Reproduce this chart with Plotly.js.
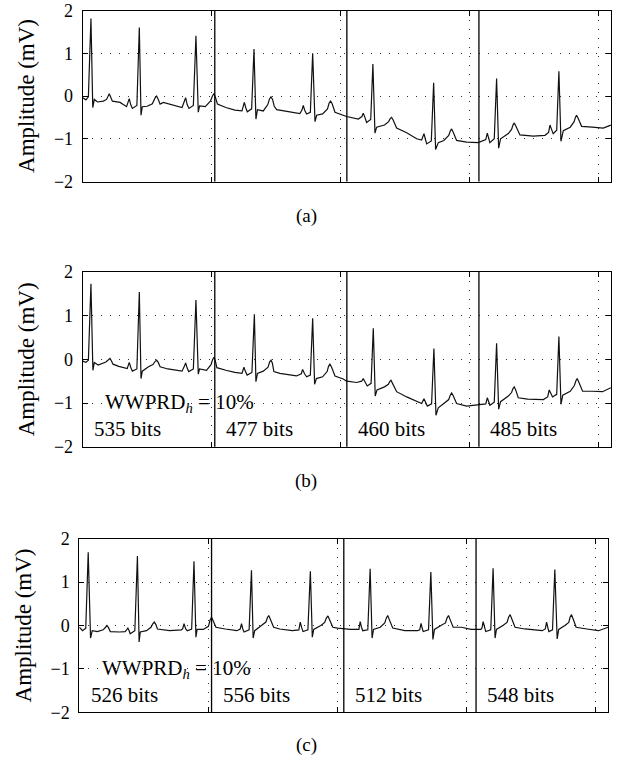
<!DOCTYPE html>
<html><head><meta charset="utf-8">
<script src="https://cdn.plot.ly/plotly-3.0.1.min.js"></script>
<style>html,body{margin:0;padding:0;background:#fff}#chart{width:625px;height:765px}</style>
</head><body><div id="chart"></div>
<script>
// ---------- DATA (sample index, amplitude in mV) ----------
const sampleA = [
  0, 25, 44, 64, 78, 90, 115, 160, 185, 196, 206, 216, 230,
  290, 340, 350, 361, 372, 385, 420, 439, 452, 462, 500, 540, 560, 573, 586, 600, 625, 660, 720, 770,
  786, 798, 810, 824, 858, 878, 896, 906, 950, 990, 1006, 1018, 1030, 1045, 1110, 1180, 1235,
  1243, 1253, 1265, 1276, 1310, 1328, 1343, 1355, 1400, 1435, 1448, 1460, 1472, 1485, 1504, 1607, 1684,
  1700, 1710, 1722, 1736, 1765, 1783, 1801, 1814, 1860, 1898, 1910, 1922, 1934, 1956, 2046, 2137,
  2165, 2175, 2188, 2201, 2233, 2250, 2266, 2279, 2340, 2372, 2384, 2395, 2407, 2434, 2512, 2589,
  2628, 2646, 2656, 2667, 2703, 2721, 2736, 2757, 2800, 2838, 2850, 2860, 2872, 2899, 2977, 3067,
  3125, 3137, 3147, 3157, 3191, 3209, 3225, 3240, 3300, 3325, 3336, 3346, 3358, 3390, 3493, 3584,
  3612, 3623, 3635, 3648, 3675, 3692, 3708, 3726, 3780, 3810, 3820, 3829, 3841, 3868, 3950, 4036, 4095
];
const ampA = [
  -0.04, -0.09, -0.02, 1.81, -0.27, -0.08, -0.14, -0.12, -0.08, -0.01, 0.05, -0.02, -0.12,
  -0.15, -0.25, -0.16, -0.06, -0.20, -0.29, -0.22, 1.60, -0.45, -0.25, -0.24, -0.18, -0.05, 0.00, -0.08, -0.19, -0.15, -0.18, -0.23, -0.27,
  -0.14, -0.04, -0.20, -0.29, -0.22, 1.41, -0.38, -0.23, -0.25, -0.12, 0.00, 0.06, -0.04, -0.19, -0.27, -0.33, -0.35,
  -0.25, -0.15, -0.28, -0.37, -0.30, 1.10, -0.54, -0.32, -0.35, -0.20, -0.07, -0.02, -0.08, -0.24, -0.32, -0.37, -0.41,
  -0.33, -0.22, -0.34, -0.42, -0.38, 1.00, -0.60, -0.45, -0.42, -0.30, -0.17, -0.12, -0.18, -0.38, -0.48, -0.54,
  -0.48, -0.40, -0.50, -0.62, -0.55, 0.75, -0.87, -0.73, -0.68, -0.60, -0.53, -0.50, -0.56, -0.75, -0.86, -1.00,
  -1.03, -0.88, -1.00, -1.12, -1.05, 0.31, -1.25, -1.09, -1.04, -0.92, -0.82, -0.77, -0.84, -1.04, -1.08, -1.09,
  -1.02, -0.87, -0.98, -1.09, -1.00, 0.41, -1.22, -1.00, -0.88, -0.78, -0.68, -0.63, -0.70, -0.91, -0.94, -0.92,
  -0.85, -0.68, -0.78, -0.88, -0.80, 0.58, -1.06, -0.81, -0.73, -0.60, -0.50, -0.45, -0.52, -0.71, -0.73, -0.75, -0.68
];

const sampleB = [
  0, 25, 44, 64, 79, 90, 120, 150, 180, 200, 212, 222, 235, 280, 330,
  345, 352, 361, 372, 385, 420, 439, 452, 462, 510, 545, 561, 573, 586, 600, 660, 720, 770,
  788, 798, 810, 822, 858, 878, 896, 906, 960, 995, 1007, 1018, 1029, 1040, 1110, 1180, 1235,
  1242, 1250, 1262, 1275, 1312, 1331, 1343, 1355, 1400, 1437, 1449, 1460, 1471, 1482, 1529, 1657,
  1695, 1705, 1720, 1736, 1765, 1783, 1798, 1812, 1860, 1895, 1906, 1917, 1930, 1956, 2020, 2047, 2124,
  2163, 2175, 2190, 2206, 2236, 2253, 2268, 2282, 2340, 2370, 2380, 2390, 2402, 2434, 2512, 2589,
  2628, 2646, 2660, 2672, 2705, 2723, 2739, 2757, 2800, 2838, 2850, 2860, 2872, 2899, 2977, 3067,
  3125, 3137, 3147, 3157, 3191, 3209, 3225, 3240, 3300, 3325, 3336, 3346, 3357, 3377, 3450, 3571,
  3605, 3617, 3630, 3643, 3675, 3692, 3708, 3722, 3780, 3812, 3824, 3834, 3846, 3876, 3950, 4030, 4095
];
const ampB = [
  -0.04, -0.07, -0.02, 1.73, -0.25, -0.07, -0.13, -0.10, -0.06, -0.01, 0.02, -0.03, -0.11, -0.16, -0.20,
  -0.21, -0.15, -0.07, -0.18, -0.27, -0.22, 1.54, -0.44, -0.27, -0.17, -0.12, -0.05, -0.02, -0.07, -0.17, -0.22, -0.25, -0.27,
  -0.16, -0.08, -0.20, -0.28, -0.22, 1.36, -0.34, -0.22, -0.25, -0.12, -0.01, 0.05, -0.04, -0.19, -0.25, -0.30, -0.32,
  -0.26, -0.18, -0.28, -0.36, -0.30, 1.03, -0.51, -0.32, -0.27, -0.18, -0.06, -0.02, -0.09, -0.28, -0.32, -0.38,
  -0.33, -0.23, -0.33, -0.40, -0.36, 0.94, -0.57, -0.44, -0.40, -0.28, -0.16, -0.11, -0.18, -0.38, -0.45, -0.50, -0.53,
  -0.50, -0.44, -0.52, -0.61, -0.55, 0.71, -0.84, -0.70, -0.63, -0.57, -0.51, -0.48, -0.55, -0.74, -0.86, -0.97,
  -1.01, -0.90, -0.98, -1.07, -1.02, 0.25, -1.28, -1.11, -1.01, -0.92, -0.82, -0.77, -0.83, -1.01, -1.07, -1.05,
  -1.02, -0.88, -0.97, -1.05, -0.98, 0.37, -1.14, -0.97, -0.84, -0.76, -0.67, -0.63, -0.70, -0.88, -0.91, -0.92,
  -0.86, -0.70, -0.78, -0.86, -0.80, 0.52, -1.03, -0.82, -0.73, -0.60, -0.49, -0.44, -0.52, -0.73, -0.73, -0.74, -0.65
];

const sampleC = [
  0, 25, 50, 69, 87, 100, 140, 185, 203, 214, 226, 240, 310, 355,
  366, 376, 386, 394, 430, 450, 463, 472, 520, 555, 569, 581, 593, 605, 700, 790,
  800, 811, 824, 836, 870, 888, 903, 912, 960, 1000, 1012, 1024, 1038, 1058, 1130, 1220,
  1246, 1256, 1266, 1276, 1315, 1333, 1346, 1358, 1410, 1445, 1456, 1467, 1480, 1505, 1552, 1650,
  1700, 1711, 1722, 1732, 1770, 1789, 1804, 1815, 1870, 1900, 1913, 1925, 1938, 1963, 2000, 2100,
  2165, 2175, 2185, 2195, 2234, 2252, 2267, 2278, 2330, 2365, 2377, 2388, 2401, 2427, 2520, 2620,
  2636, 2646, 2655, 2663, 2704, 2722, 2738, 2750, 2800, 2835, 2847, 2859, 2872, 2895, 2960, 3032, 3110,
  3118, 3127, 3137, 3147, 3186, 3204, 3219, 3230, 3280, 3312, 3324, 3336, 3349, 3374, 3450, 3584,
  3608, 3618, 3627, 3636, 3664, 3682, 3700, 3712, 3760, 3790, 3800, 3811, 3824, 3847, 3930, 4020, 4095
];
const ampC = [
  -0.04, -0.12, -0.06, 1.69, -0.29, -0.12, -0.14, -0.10, -0.04, 0.00, -0.05, -0.14, -0.15, -0.14,
  -0.10, -0.06, -0.12, -0.19, -0.12, 1.60, -0.38, -0.15, -0.12, -0.04, 0.04, 0.08, 0.02, -0.08, -0.12, -0.10,
  -0.08, 0.04, -0.08, -0.12, -0.08, 1.48, -0.27, -0.09, -0.09, -0.02, 0.12, 0.19, 0.10, -0.04, -0.08, -0.12,
  -0.08, 0.04, -0.08, -0.15, -0.10, 1.27, -0.29, -0.12, 0.00, 0.08, 0.18, 0.23, 0.14, -0.04, -0.08, -0.12,
  -0.10, 0.08, -0.05, -0.14, -0.10, 1.25, -0.27, -0.09, 0.00, 0.07, 0.17, 0.22, 0.13, -0.04, -0.06, -0.09,
  -0.09, 0.09, -0.04, -0.12, -0.10, 1.31, -0.29, -0.09, -0.04, 0.06, 0.17, 0.23, 0.13, -0.06, -0.12, -0.12,
  -0.10, 0.05, -0.06, -0.14, -0.10, 1.23, -0.32, -0.09, 0.00, 0.06, 0.17, 0.23, 0.13, -0.04, -0.04, -0.09, -0.09,
  -0.06, 0.09, -0.04, -0.14, -0.10, 1.32, -0.29, -0.09, 0.00, 0.07, 0.19, 0.25, 0.15, -0.04, -0.08, -0.12,
  -0.08, 0.08, -0.04, -0.14, -0.10, 1.29, -0.31, -0.09, 0.00, 0.07, 0.19, 0.25, 0.15, -0.04, -0.08, -0.12, -0.04
];

const segmentStarts = [0, 1024, 2048, 3072];
const segmentEdges = [1024, 2048, 3072];
const bitsB = [535, 477, 460, 485];
const bitsC = [526, 556, 512, 548];
const qualityLabel = 'WWPRD<sub><i>h</i></sub> = 10%';
const panelLabels = ['(a)', '(b)', '(c)'];
const yTicks = [-2, -1, 0, 1, 2];
const xGridTicks = [1000, 2000, 3000, 4000];
const yTitle = 'Amplitude (mV)';

// ---------- LAYOUT ----------
const W = 625, H = 765;
const serif = "'Liberation Serif', 'Times New Roman', serif";
const panels = [
  {x: sampleA, y: ampA, xd: [82.7, 611], yd: [10.5, 181.5], cap: 216, bits: null},
  {x: sampleB, y: ampB, xd: [82.7, 611], yd: [272.0, 446.7], cap: 481, bits: bitsB},
  {x: sampleC, y: ampC, xd: [79.3, 608.3], yd: [538.7, 712.3], cap: 745, bits: bitsC}
];

const data = [];
const layout = {
  width: W, height: H,
  margin: {l: 0, r: 0, t: 0, b: 0},
  paper_bgcolor: '#fff', plot_bgcolor: '#fff',
  showlegend: false,
  font: {family: serif, size: 18, color: '#000'},
  shapes: [], annotations: []
};

panels.forEach((p, i) => {
  const n = i === 0 ? '' : String(i + 1);
  const xa = 'x' + n, ya = 'y' + n;
  data.push({
    type: 'scatter', mode: 'lines', x: p.x, y: p.y,
    xaxis: xa, yaxis: ya,
    line: {color: '#111', width: 1.2}, hoverinfo: 'skip'
  });
  layout['xaxis' + n] = {
    domain: [p.xd[0] / W, p.xd[1] / W], range: [0, 4096], anchor: ya,
    tickmode: 'array', tickvals: xGridTicks, showticklabels: false,
    ticks: 'inside', ticklen: 5, tickcolor: '#000', tickwidth: 1,
    showline: true, linecolor: '#000', linewidth: 1, mirror: 'ticks',
    showgrid: true, gridcolor: '#333', gridwidth: 1, griddash: '1px,8px',
    zeroline: false, fixedrange: true
  };
  layout['yaxis' + n] = {
    domain: [1 - p.yd[1] / H, 1 - p.yd[0] / H], range: [-2, 2], anchor: xa,
    tickmode: 'array', tickvals: yTicks,
    ticks: 'inside', ticklen: 5, tickcolor: '#000', tickwidth: 1,
    showline: true, linecolor: '#000', linewidth: 1, mirror: 'ticks',
    showgrid: true, gridcolor: '#333', gridwidth: 1, griddash: '1px,8px',
    zeroline: false, fixedrange: true,
    ticklabeloverflow: 'allow',
    tickfont: {family: serif, size: 18, color: '#000'},
    ticklabelstandoff: 5,
    title: {text: yTitle, font: {family: serif, size: 23, color: '#000'}, standoff: 12}
  };
  segmentEdges.forEach(e => {
    layout.shapes.push({type: 'line', xref: xa, yref: ya + ' domain', x0: e, x1: e, y0: 0, y1: 1,
      line: {color: '#000', width: 1.3}});
  });
  if (p.bits) {
    layout.annotations.push({xref: xa, yref: ya, x: 160, y: -1.0, xanchor: 'left', yanchor: 'middle',
      text: qualityLabel, showarrow: false, font: {family: serif, size: 21, color: '#000'}});
    p.bits.forEach((b, k) => {
      layout.annotations.push({xref: xa, yref: ya, x: segmentStarts[k] + 72, y: -1.6, xanchor: 'left', yanchor: 'middle',
        text: b + ' bits', showarrow: false, font: {family: serif, size: 21, color: '#000'}});
    });
  }
  layout.annotations.push({xref: 'paper', yref: 'paper', x: 306 / W, y: 1 - p.cap / H,
    xanchor: 'center', yanchor: 'middle', text: panelLabels[i], showarrow: false,
    font: {family: serif, size: 19, color: '#000'}});
});

Plotly.newPlot('chart', data, layout, {staticPlot: true, displayModeBar: false});
</script>
</body></html>
